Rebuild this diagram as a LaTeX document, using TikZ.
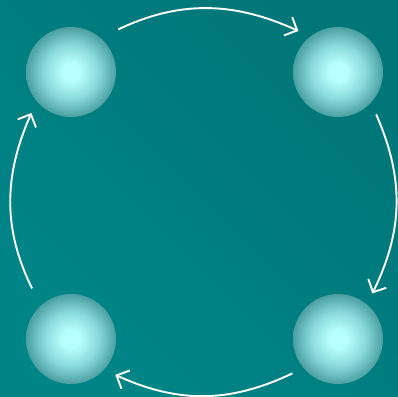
\documentclass[tikz,border=0pt]{standalone}
\usetikzlibrary{arrows.meta}
\definecolor{bgA}{RGB}{0,118,120}
\definecolor{bgB}{RGB}{0,133,135}
\definecolor{sphC}{RGB}{184,254,254}
\definecolor{sphM}{RGB}{138,218,220}
\definecolor{sphE}{RGB}{76,160,162}
\pgfdeclareradialshading{sphere}{\pgfpoint{0bp}{0bp}}{%
  color(0bp)=(sphC); color(5bp)=(sphC); color(15bp)=(sphM); color(25bp)=(sphE); color(100bp)=(sphE)}
\tikzset{
  ball/.style={circle, minimum size=90pt, inner sep=0pt, outer sep=12pt, shading=sphere},
  flow/.style={draw=white, line width=1.9pt, -{Straight Barb[length=10pt,width=20pt]}}
}
\begin{document}
\begin{tikzpicture}[x=1pt,y=-1pt]
\shade[left color=bgA, right color=bgB, shading angle=-45] (0,0) rectangle (398,396);
\useasboundingbox (0,0) rectangle (398,396);
\node[ball] (tl) at (71,72) {};
\node[ball] (tr) at (338,72) {};
\node[ball] (br) at (338,339) {};
\node[ball] (bl) at (71,339) {};
\draw[flow, shorten <=7pt] (tl.44) to[bend left=25] (tr.134);
\draw[flow] (tr.-48) to[bend left=25] (br.53);
\draw[flow] (br.-143) to[bend left=25] (bl.-39);
\draw[flow, shorten <=7pt] (bl.129) to[bend left=25] (tl.-134);
\end{tikzpicture}
\end{document}
